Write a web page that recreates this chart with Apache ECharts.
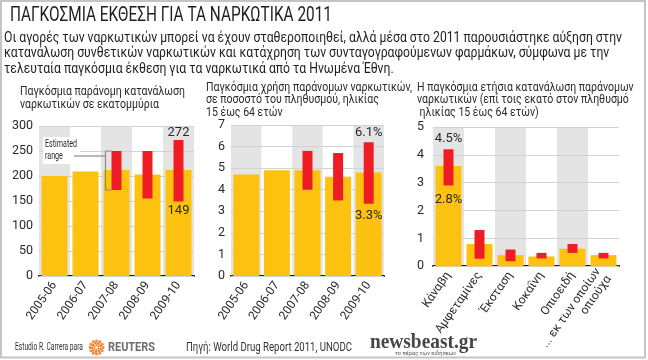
<!DOCTYPE html>
<html><head><meta charset="utf-8">
<script src="https://cdn.jsdelivr.net/npm/echarts@6/dist/echarts.min.js"></script>
<style>html,body{margin:0;padding:0;background:#fff}#c{width:648px;height:360px}</style>
</head><body><div id="c"></div>
<script>
// ---------- data ----------
const years = ['2005-06', '2006-07', '2007-08', '2008-09', '2009-10'];
const usersMillions = [200, 209, 212, 203, 212];
const usersLow = ['-', '-', 172, 155, 149];
const usersHigh = ['-', '-', 250, 250, 272];
const usersLowLabel = ['', '', '', '', '149'];
const usersHighLabel = ['', '', '', '', '272'];

const prevalence = [4.7, 4.9, 4.9, 4.6, 4.8];
const prevLow = ['-', '-', 4.0, 3.5, 3.35];
const prevHigh = ['-', '-', 5.8, 5.7, 6.2];
const prevLowLabel = ['', '', '', '', '3.3%'];
const prevHighLabel = ['', '', '', '', '6.1%'];

const drugs = ['Κάναβη', 'Αμφεταμίνες', 'Έκσταση', 'Κοκαΐνη', 'Οπιοειδή', '... εκ των οποίων\nοπιούχα'];
const drugPrev = [3.6, 0.8, 0.4, 0.35, 0.63, 0.4];
const drugLow = [2.9, 0.27, 0.18, 0.28, 0.48, 0.28];
const drugHigh = [4.2, 1.3, 0.6, 0.48, 0.8, 0.48];
const drugLowLabel = ['2.8%', '', '', '', '', ''];
const drugHighLabel = ['4.5%', '', '', '', '', ''];

const yMax = [300, 7, 5];
const yInterval = [50, 1, 1];

const titleText = 'ΠΑΓΚΟΣΜΙΑ ΕΚΘΕΣΗ ΓΙΑ ΤΑ ΝΑΡΚΩΤΙΚΑ 2011';
const subtitleLines = [
  'Οι αγορές των ναρκωτικών μπορεί να έχουν σταθεροποιηθεί, αλλά μέσα στο 2011 παρουσιάστηκε αύξηση στην',
  'κατανάλωση συνθετικών ναρκωτικών και κατάχρηση των συνταγογραφούμενων φαρμάκων, σύμφωνα με την',
  'τελευταία παγκόσμια έκθεση για τα ναρκωτικά από τα Ηνωμένα Έθνη.'
];
const panelTitles = [
  ['Παγκόσμια παράνομη κατανάλωση', 'ναρκωτικών σε εκατομμύρια'],
  ['Παγκόσμια χρήση παράνομων ναρκωτικών,', 'σε ποσοστό του πληθυσμού, ηλικίας', '15 έως 64 ετών'],
  ['Η παγκόσμια ετήσια κατανάλωση παράνομων', 'ναρκωτικών (επί τοις εκατό στον πληθυσμό', ' ηλικίας 15 έως 64 ετών)']
];

// ---------- styles ----------
const FF = 'Roboto, "Noto Sans", sans-serif';
const YELLOW = '#fdc20f';
const RED = '#ee1c25';
const GREYBAND = '#e4e4e4';
const TXT = '#2a2a2a';

const mctx = document.createElement('canvas').getContext('2d');
function measure(t, font) { mctx.font = font; return mctx.measureText(t).width; }

const grids = [
  { left: 39, top: 126, width: 155, height: 150 },
  { left: 231, top: 125, width: 153, height: 151 },
  { left: 433, top: 127, width: 186, height: 149 }
];
const cats = [years, years, drugs];
const mains = [usersMillions, prevalence, drugPrev];
const lows = [usersLow, prevLow, drugLow];
const highs = [usersHigh, prevHigh, drugHigh];
const lowLabels = [usersLowLabel, prevLowLabel, drugLowLabel];
const highLabels = [usersHighLabel, prevHighLabel, drugHighLabel];
const yMargins = [6, 6, 9];
const lowDist = [3, 6, 8];
const highDist = [1, 3, 4];

const xAxis = [], yAxis = [], series = [];
grids.forEach((g, i) => {
  xAxis.push({
    type: 'category', gridIndex: i, data: cats[i], z: 0,
    axisLine: { show: true, lineStyle: { color: '#1a1a1a', width: 2 } },
    axisTick: { show: false },
    splitArea: { show: true, areaStyle: { color: [GREYBAND, '#ffffff'] } },
    axisLabel: { interval: 0, rotate: 55, margin: 7, fontSize: 12, fontFamily: FF, color: TXT, lineHeight: 13 }
  });
  xAxis.push({ type: 'category', gridIndex: i, data: cats[i], show: false });
  yAxis.push({
    type: 'value', gridIndex: i, min: 0, max: yMax[i], interval: yInterval[i], z: 1,
    axisLine: { show: false }, axisTick: { show: false },
    splitLine: { show: true, lineStyle: { color: '#d2d2d2', width: 1 } },
    axisLabel: { fontSize: 12.5, fontFamily: FF, color: TXT, margin: yMargins[i] }
  });
  series.push({
    type: 'bar', xAxisIndex: 2 * i, yAxisIndex: i, data: mains[i], barWidth: 26,
    itemStyle: { color: YELLOW }, silent: true, z: 2
  });
  series.push({
    type: 'bar', xAxisIndex: 2 * i + 1, yAxisIndex: i, stack: 'r' + i, barWidth: 10, z: 3,
    itemStyle: { color: 'rgba(0,0,0,0)' }, silent: true,
    data: lows[i].map((v, j) => ({
      value: v,
      label: lowLabels[i][j] ? { show: true, position: 'insideTop', distance: lowDist[i],
        formatter: lowLabels[i][j], fontSize: 13, fontFamily: FF, color: TXT } : { show: false }
    }))
  });
  series.push({
    type: 'bar', xAxisIndex: 2 * i + 1, yAxisIndex: i, stack: 'r' + i, barWidth: 10, z: 3,
    itemStyle: { color: RED }, silent: true,
    data: highs[i].map((v, j) => ({
      value: v === '-' ? '-' : +(v - lows[i][j]).toFixed(3),
      label: highLabels[i][j] ? { show: true, position: 'top', distance: highDist[i],
        formatter: highLabels[i][j], fontSize: 13, fontFamily: FF, color: TXT } : { show: false }
    }))
  });
});

const chart = echarts.init(document.getElementById('c'));
chart.setOption({
  animation: false,
  grid: grids.map(g => Object.assign({ containLabel: false }, g)),
  xAxis, yAxis, series
});

// ---------- texts & decorations ----------
const graphic = [];
function fitText(t, x, y, font, targetW, fill) {
  const s = targetW / measure(t, font);
  graphic.push({
    type: 'text', x, y, scaleX: s, z: 20,
    style: { text: t, font, fill, align: 'left', verticalAlign: 'middle' }, silent: true
  });
  return s;
}
function scaledText(t, x, y, font, s, fill) {
  graphic.push({ type: 'text', x, y, scaleX: s, z: 20,
    style: { text: t, font, fill, align: 'left', verticalAlign: 'middle' }, silent: true });
}
// frame
graphic.push({ type: 'rect', shape: { x: 1, y: 1, width: 644, height: 356.5 },
  style: { fill: 'none', stroke: '#c4c4c4', lineWidth: 2 }, silent: true, z: 10 });
// title
const tFont = '20px ' + FF;
fitText(titleText, 10, 16, tFont, 322, '#1e1e1e');
// subtitle
const sFont = '14px ' + FF;
const sScale = 618 / measure(subtitleLines[0], sFont);
const subY = [38, 53.5, 69];
subtitleLines.forEach((l, k) => scaledText(l, 4, subY[k], sFont, sScale, '#1e1e1e'));
// panel titles
const pFont = '12px ' + FF;
const pScale = 165 / measure(panelTitles[0][0], pFont);
const pX = [20, 206, 417];
const pY = [[91.5, 105], [87.5, 100, 112.5], [87.5, 100, 112.5]];
panelTitles.forEach((lines, i) => lines.forEach((l, k) => scaledText(l, pX[i], pY[i][k], pFont, pScale, TXT)));

// "Estimated range" annotation anchored to the 2007-08 range
const pTop = chart.convertToPixel({ xAxisIndex: 1, yAxisIndex: 0 }, [years[2], usersHigh[2]]);
const pBot = chart.convertToPixel({ xAxisIndex: 1, yAxisIndex: 0 }, [years[2], usersLow[2]]);
const bxR = pTop[0] - 5, bxL = pTop[0] - 11;
graphic.push({ type: 'rect', shape: { x: 43, y: 137, width: 37, height: 27 }, style: { fill: '#ffffff' }, silent: true, z: 4 });
graphic.push({ type: 'polyline', shape: { points: [[bxR, pTop[1]], [bxL, pTop[1]], [bxL, pBot[1]], [bxR, pBot[1]]] },
  style: { stroke: '#8a8a8a', lineWidth: 1.2, fill: 'none' }, silent: true, z: 5 });
graphic.push({ type: 'line', shape: { x1: 74, y1: 156, x2: bxL, y2: 156 },
  style: { stroke: '#8a8a8a', lineWidth: 1.2 }, silent: true, z: 5 });
const aFont = '11.5px ' + FF;
const aScale = 32 / measure('Estimated', aFont);
scaledText('Estimated', 45, 144, aFont, aScale, TXT);
scaledText('range', 45, 156.5, aFont, aScale, TXT);

// footer
const fFont = '10px ' + FF;
fitText('Estudio R. Carrera para', 15, 347.5, fFont, 68, '#333');
// Reuters logo (dotted sphere)
const lcx = 96.5, lcy = 347.5;
for (let r = 0; r < 3; r++) {
  const rad = [6.5, 4.3, 2.2][r], n = [12, 9, 6][r], sz = [1.5, 1.25, 1.0][r];
  for (let k = 0; k < n; k++) {
    const a = (k / n) * Math.PI * 2 + r * 0.3;
    graphic.push({ type: 'circle', shape: { cx: lcx + rad * Math.cos(a), cy: lcy + rad * Math.sin(a), r: sz },
      style: { fill: r === 0 ? '#f58a3a' : '#f47a20' }, silent: true, z: 20 });
  }
}
fitText('REUTERS', 108, 347.5, 'bold 12px ' + FF, 47, '#6d6d6d');
fitText('Πηγή: World Drug Report 2011, UNODC', 186, 347.5, '12px ' + FF, 166, '#333');
fitText('newsbeast.gr', 370, 343, 'bold 21px "Liberation Serif", "DejaVu Serif", serif', 107, '#464646');
fitText('το πέρας των ειδήσεων', 395, 354.2, '5px ' + FF, 61, '#555');

chart.setOption({ graphic });
</script>
</body></html>
